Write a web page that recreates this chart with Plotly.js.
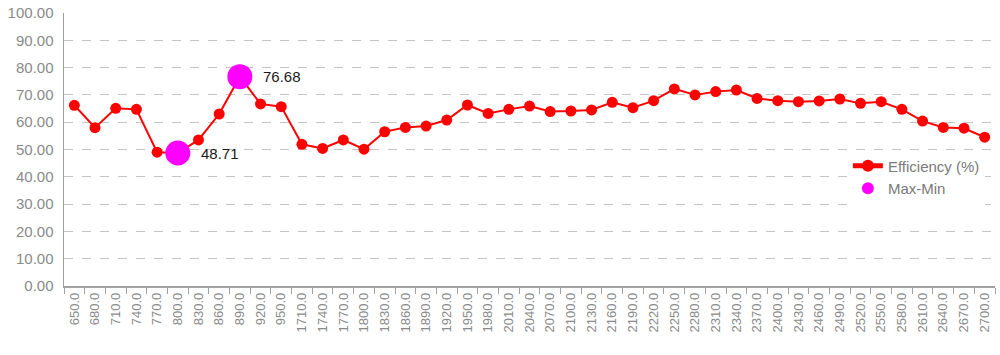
<!DOCTYPE html>
<html>
<head>
<meta charset="utf-8">
<script src="https://cdn.plot.ly/plotly-3.0.1.min.js"></script>
<style>
  html, body { margin: 0; padding: 0; background: #ffffff; }
  #chart { width: 1000px; height: 355px; }
</style>
</head>
<body>
<div id="chart"></div>
<script>
const categories = [
  "650.0","680.0","710.0","740.0","770.0","800.0","830.0","860.0","890.0","920.0","950.0",
  "1710.0","1740.0","1770.0","1800.0","1830.0","1860.0","1890.0","1920.0","1950.0","1980.0",
  "2010.0","2040.0","2070.0","2100.0","2130.0","2160.0","2190.0","2220.0","2250.0","2280.0",
  "2310.0","2340.0","2370.0","2400.0","2430.0","2460.0","2490.0","2520.0","2550.0","2580.0",
  "2610.0","2640.0","2670.0","2700.0"
];
const efficiency = [
  66.2, 58.0, 65.1, 64.7, 49.0, 48.71, 53.5, 63.0, 76.68, 66.7, 65.7,
  51.9, 50.4, 53.5, 50.1, 56.5, 58.1, 58.6, 60.8, 66.3, 63.2,
  64.7, 65.9, 63.9, 64.1, 64.5, 67.3, 65.3, 67.9, 72.2, 70.0,
  71.2, 71.8, 68.7, 67.9, 67.5, 67.8, 68.5, 66.9, 67.5, 64.7,
  60.4, 58.1, 57.8, 54.5
];
const maxMinCategories = ["800.0", "890.0"];
const maxMinValues = [48.71, 76.68];
const maxMinLabels = ["48.71", "76.68"];
const yTickValues = [0,10,20,30,40,50,60,70,80,90,100];

const font = "Liberation Sans, Arial, sans-serif";

const traces = [
  {
    type: "scatter", mode: "lines+markers", name: "Efficiency (%)",
    x: categories, y: efficiency,
    line: { color: "#ff0000", width: 2 },
    marker: { color: "#ff0000", size: 11 }
  },
  {
    type: "scatter", mode: "markers", name: "Max-Min",
    x: maxMinCategories, y: maxMinValues,
    marker: { color: "#ff00ff", size: 25 }
  }
];

const annotations = maxMinCategories.map((c, i) => ({
  x: categories.indexOf(c), y: maxMinValues[i], xref: "x", yref: "y",
  text: maxMinLabels[i], showarrow: false,
  xanchor: "left", yanchor: "middle", xshift: 21,
  font: { family: font, size: 15, color: "#1a1a1a" }
}));

const layout = {
  width: 1000, height: 355,
  margin: { l: 64, r: 5, t: 13, b: 69, pad: 0 },
  paper_bgcolor: "#ffffff", plot_bgcolor: "#ffffff",
  font: { family: font, color: "#808080" },
  showlegend: true,
  legend: {
    x: 0.842, xanchor: "left", y: 0.50, yanchor: "top",
    bgcolor: "#ffffff", borderwidth: 0,
    font: { family: font, size: 15, color: "#7a7a7a" },
    itemsizing: "constant", tracegroupgap: 0
  },
  xaxis: {
    type: "category", categoryorder: "array", categoryarray: categories,
    tickangle: -90, tickson: "boundaries",
    ticks: "outside", ticklen: 6, tickcolor: "#a0a0a0",
    showline: true, linecolor: "#a0a0a0", linewidth: 1.5,
    showgrid: false, zeroline: false,
    tickfont: { family: font, size: 13, color: "#8a8a8a" },
    range: [-0.5, categories.length - 0.5]
  },
  yaxis: {
    range: [0, 100], tickvals: yTickValues, tickformat: ".2f",
    ticks: "", showline: true, linecolor: "#a0a0a0", linewidth: 1.5,
    showgrid: true, gridcolor: "#c4c4c4", griddash: "dash", gridwidth: 1,
    zeroline: false,
    tickfont: { family: font, size: 15, color: "#8a8a8a" },
    ticklabelstandoff: 6
  },
  annotations: annotations
};

Plotly.newPlot("chart", traces, layout, { displayModeBar: false, staticPlot: true });
</script>
</body>
</html>
